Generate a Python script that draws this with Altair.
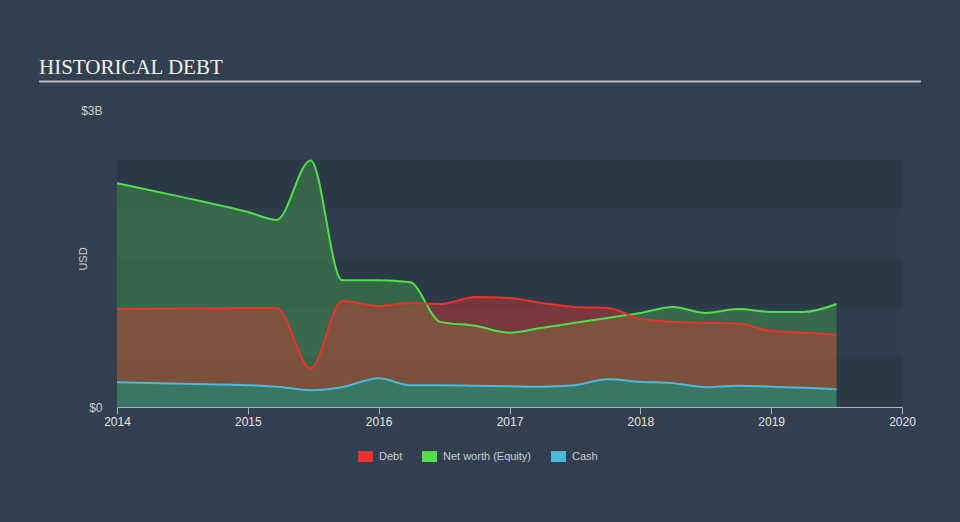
import altair as alt
import pandas as pd

# ---- data (USD billions) ----
years = [2014.0, 2014.5, 2015.0, 2015.22, 2015.48, 2015.72, 2016.0, 2016.24, 2016.47, 2016.74,
         2017.0, 2017.25, 2017.5, 2017.75, 2018.0, 2018.25, 2018.5, 2018.75,
         2019.0, 2019.25, 2019.5]
net_worth = [2.26, 2.12, 1.97, 1.89, 2.49, 1.28, 1.28, 1.26, 0.86, 0.82,
             0.75, 0.80, 0.85, 0.90, 0.95, 1.01, 0.95, 0.99,
             0.96, 0.96, 1.04]
debt = [0.99, 0.995, 1.0, 1.00, 0.39, 1.07, 1.02, 1.05, 1.04, 1.11,
        1.10, 1.05, 1.01, 1.00, 0.89, 0.86, 0.85, 0.84,
        0.77, 0.75, 0.73]
cash = [0.25, 0.235, 0.22, 0.205, 0.17, 0.20, 0.29, 0.22, 0.22, 0.215,
        0.21, 0.205, 0.22, 0.28, 0.255, 0.24, 0.20, 0.215,
        0.205, 0.195, 0.18]

x_ticks = [2014, 2015, 2016, 2017, 2018, 2019, 2020]
y_ticks = [0, 3]
band_lo = [0.0, 0.5, 1.0, 1.5, 2.0]
band_hi = [0.5, 1.0, 1.5, 2.0, 2.5]
band_shade = ["a", "b", "a", "b", "a"]

series_names = ["Debt", "Net worth (Equity)", "Cash"]
series_colors = ["#e8332a", "#4fe04a", "#4cb8dc"]
title_text = "HISTORICAL DEBT"

FONT = "Liberation Sans"
W, H = 785, 297

df = pd.DataFrame({"year": years, "nw": net_worth, "debt": debt, "cash": cash})
bands = pd.DataFrame({"lo": band_lo, "hi": band_hi, "shade": band_shade})

x_enc = alt.X("year:Q",
              scale=alt.Scale(domain=[2014, 2020], nice=False, zero=False),
              axis=alt.Axis(values=x_ticks, format="d", title=None, grid=False,
                            domainColor="#aab3bd", tickColor="#aab3bd",
                            tickSize=7, labelPadding=2, labelColor="#e6e6e6",
                            labelFontSize=12, labelFont=FONT, labelFlush=False))


def y_enc(field):
    return alt.Y(field,
                 scale=alt.Scale(domain=[0, 3], nice=False),
                 axis=alt.Axis(values=y_ticks, title="USD", grid=False,
                               domain=False, ticks=False, labelPadding=15,
                               labelExpr="datum.value == 0 ? '$0' : '$' + datum.value + 'B'",
                               labelColor="#d0d0d0", labelFontSize=12, labelFont=FONT,
                               titleColor="#d0d0d0", titleFontSize=11, titleFont=FONT,
                               titleFontWeight="normal", titleAngle=270,
                               titleX=-34, titleY=H / 2, titleAlign="center",
                               titleBaseline="middle"))


color_enc = alt.Color("series:N",
                      scale=alt.Scale(domain=series_names, range=series_colors),
                      legend=alt.Legend(title=None, orient="none", legendX=241,
                                        legendY=339, direction="horizontal",
                                        symbolType="M-1,-0.73H1V0.73H-1Z",
                                        symbolSize=225, symbolOpacity=1,
                                        symbolStrokeWidth=0, labelOffset=6,
                                        columnPadding=19, padding=0,
                                        labelColor="#c8ccd0", labelFontSize=11,
                                        labelFont=FONT))

band_layer = alt.Chart(bands).mark_rect().encode(
    x=alt.value(0), x2=alt.value(W),
    y=y_enc("lo:Q"), y2="hi:Q",
    fill=alt.Fill("shade:N", scale=alt.Scale(domain=["a", "b"],
                                             range=["#2c3947", "#303d4c"]),
                  legend=None),
)

base = alt.Chart(df)

nw_area = base.transform_calculate(series="'Net worth (Equity)'").mark_area(
    interpolate="monotone", opacity=0.27).encode(x=x_enc, y=y_enc("nw:Q"), color=color_enc)
debt_area = base.transform_calculate(series="'Debt'").mark_area(
    interpolate="monotone", opacity=0.40).encode(x=x_enc, y=y_enc("debt:Q"), y2="cash:Q",
                                                 color=color_enc)
cash_area = base.transform_calculate(series="'Cash'").mark_area(
    interpolate="monotone", opacity=0.2).encode(x=x_enc, y=y_enc("cash:Q"), color=color_enc)

nw_line = base.mark_line(interpolate="monotone", color=series_colors[1], strokeWidth=2).encode(
    x=x_enc, y=y_enc("nw:Q"))
debt_line = base.mark_line(interpolate="monotone", color=series_colors[0], strokeWidth=2).encode(
    x=x_enc, y=y_enc("debt:Q"))
cash_line = base.mark_line(interpolate="monotone", color=series_colors[2], strokeWidth=2).encode(
    x=x_enc, y=y_enc("cash:Q"))

title_df = pd.DataFrame({"t": [title_text]})
title_layer = alt.Chart(title_df).mark_text(
    align="left", baseline="alphabetic", font="Liberation Serif", fontSize=21,
    color="#f2f2f2").encode(x=alt.value(-78), y=alt.value(-36), text="t:N")
rule_layer = alt.Chart(title_df).mark_rule(color="#b8bcc2", strokeWidth=2).encode(
    x=alt.value(-78), x2=alt.value(804), y=alt.value(-28.5))

chart = alt.layer(
    band_layer, nw_area, debt_area, cash_area, nw_line, debt_line, cash_line,
    title_layer, rule_layer
).properties(
    width=W, height=H,
    autosize=alt.AutoSizeParams(type="none"),
    padding={"left": 117, "top": 110, "right": 58, "bottom": 115},
    background="#323f4e",
).configure_view(stroke=None)

chart.save("out.html", embed_options={"renderer": "svg", "actions": False})
